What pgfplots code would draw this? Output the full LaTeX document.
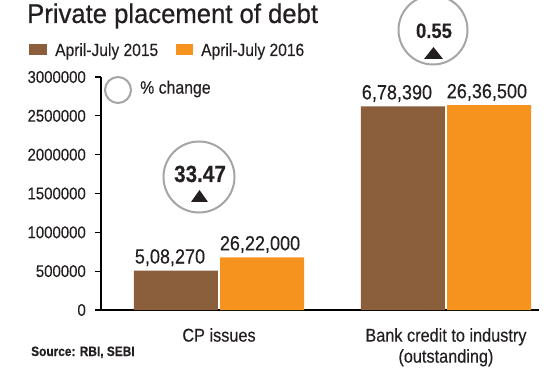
\documentclass[border=0pt]{standalone}
\usepackage{pgfplots}
\pgfplotsset{compat=1.18}
\usepackage{fontspec}
\setmainfont[FakeStretch=0.88, FakeBold=0.3]{Liberation Sans}
\newfontfamily\titlefont[FakeStretch=0.95, FakeBold=0.6]{Liberation Sans}
\definecolor{cbrown}{RGB}{139,94,60}
\definecolor{corange}{RGB}{246,146,30}
\definecolor{cgray}{RGB}{165,165,165}
\definecolor{ctext}{RGB}{35,31,32}
\begin{document}
\begin{tikzpicture}[x=1pt,y=1pt]
\path[use as bounding box] (0,0) rectangle (551,367);
\begin{axis}[
  at={(101pt,57pt)}, anchor=south west,
  scale only axis, width=438pt, height=233pt,
  xmin=-0.52, xmax=1.41, ymin=0, ymax=3000000,
  axis lines*=left,
  axis line style={line width=1.2pt, black},
  xtick={0,1},
  xticklabels={CP issues, Bank credit to industry\\(outstanding)},
  xtick style={draw=none},
  xticklabel style={align=center, anchor=north, inner sep=0pt, yshift=-12pt,
    font=\fontsize{18.5}{21}\selectfont, text=ctext},
  ytick={0,500000,1000000,1500000,2000000,2500000,3000000},
  tick align=outside, major tick length=6pt,
  ytick style={line width=1.2pt, black},
  scaled y ticks=false,
  /pgf/number format/assume math mode=true,
  yticklabel style={/pgf/number format/fixed, /pgf/number format/1000 sep={},
    font=\fontsize{17}{17}\selectfont, anchor=east, inner sep=0pt, xshift=-9pt, text=ctext},
  clip=false,
  enlargelimits=false,
]
\addplot[ybar, bar width=0.37, bar shift=-0.19, fill=cbrown, draw=none,
  nodes near coords, point meta=explicit symbolic,
  nodes near coords style={anchor=base, yshift=7pt, xshift=-49pt, inner sep=0pt,
    font=\fontsize{20.5}{20.5}\selectfont, text=ctext}]
  table[x=x, y=y, meta=label] {
x y label
0 508270 5,08,270
1 2622000 6,78,390
};
\addplot[ybar, bar width=0.37, bar shift=0.19, fill=corange, draw=none,
  nodes near coords, point meta=explicit symbolic,
  nodes near coords style={anchor=base, yshift=7pt, xshift=41pt, inner sep=0pt,
    font=\fontsize{20.5}{20.5}\selectfont, text=ctext}]
  table[x=x, y=y, meta=label] {
x y label
0 678390 26,22,000
1 2636500 26,36,500
};
\end{axis}
% title
\node[anchor=base west, inner sep=0pt, text=ctext] at (27,344)
  {\titlefont\fontsize{27}{27}\selectfont Private placement of debt};
% legend
\fill[cbrown] (29,312) rectangle (47,323);
\node[anchor=base west, inner sep=0pt, text=ctext] at (55,311)
  {\fontsize{17.7}{17.7}\selectfont April-July 2015};
\fill[corange] (176,312) rectangle (193,323);
\node[anchor=base west, inner sep=0pt, text=ctext] at (201,311)
  {\fontsize{17.7}{17.7}\selectfont April-July 2016};
% % change key
\draw[cgray, line width=2pt] (118,277) circle (13);
\node[anchor=west, inner sep=0pt, text=ctext] at (140,278)
  {\fontsize{18}{18}\selectfont \% change};
% change circles
\draw[cgray, line width=2pt] (433,337) circle (34.5);
\node[anchor=base, inner sep=0pt, text=ctext] at (434,329)
  {\bfseries\fontsize{21}{21}\selectfont 0.55};
\fill[ctext] (424,308) -- (443,308) -- (433.5,320) -- cycle;
\draw[cgray, line width=2pt] (199,190) circle (35.5);
\node[anchor=base, inner sep=0pt, text=ctext] at (200,185)
  {\bfseries\fontsize{23.5}{23.5}\selectfont 33.47};
\fill[ctext] (191,165) -- (208,165) -- (199.5,177) -- cycle;
% source
\node[anchor=base west, inner sep=0pt, text=ctext] at (31,11)
  {\bfseries\fontsize{13.5}{13.5}\selectfont Source: RBI, SEBI};
\end{tikzpicture}
\end{document}
